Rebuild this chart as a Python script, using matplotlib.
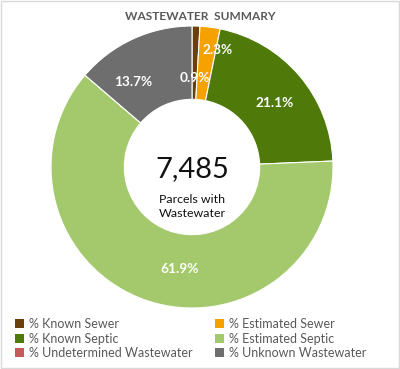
import matplotlib
matplotlib.use("Agg")
import matplotlib.pyplot as plt
from matplotlib.patches import Patch, Rectangle
import numpy as np

plt.rcParams["font.family"] = ["Lato", "DejaVu Sans"]

categories = ["% Known Sewer", "% Estimated Sewer", "% Known Septic",
              "% Estimated Septic", "% Undetermined Wastewater", "% Unknown Wastewater"]
values = [0.9, 2.3, 21.1, 61.9, 0.0, 13.7]
colors = ["#6A3F0B", "#F5A100", "#4F7A0A", "#A4C96D", "#C55A5A", "#6E6E6E"]
total_parcels = 7485

# per-label radial position and angular nudge (degrees, ccw positive)
label_r = [0.63, 0.85, 0.74, 0.73, 0.74, 0.73]
label_nudge = [0, -5, -2.5, 12, 0, 10]

W, H = 400, 369
fig = plt.figure(figsize=(W / 100, H / 100), dpi=100)
fig.patches.append(Rectangle((0.002, 0.002), 0.996, 0.996, transform=fig.transFigure,
                             fill=False, edgecolor="#d9d9d9", linewidth=1))
renderer = fig.canvas.get_renderer()


def fit_size(txt, target_px, weight="normal"):
    # pick a font size so the text spans target_px pixels
    t = fig.text(0, 0, txt, fontsize=10, fontweight=weight)
    w = t.get_window_extent(renderer).width
    t.remove()
    return 10 * target_px / w


cx, cy, r = 192, 167, 141
ax = fig.add_axes([(cx - r) / W, (H - cy - r) / H, 2 * r / W, 2 * r / H])

wedges, _ = ax.pie(values, colors=colors, startangle=90, counterclock=False,
                   wedgeprops=dict(width=0.52, edgecolor="white", linewidth=0.8))
ax.set_xlim(-1, 1)
ax.set_ylim(-1, 1)

lab_fs = fit_size("21.1%", 38, "bold")
for w, v, rr, nd in zip(wedges, values, label_r, label_nudge):
    if v <= 0:
        continue
    ang = np.deg2rad((w.theta1 + w.theta2) / 2 + nd)
    ax.text(rr * np.cos(ang), rr * np.sin(ang), f"{v:.1f}%", ha="center", va="center",
            color="white", fontsize=lab_fs, fontweight="bold")

ax.text(0, -0.015, f"{total_parcels:,}", ha="center", va="center",
        fontsize=fit_size("7,485", 74), color="#111111")
ax.text(0, -0.28, "Parcels with\nWastewater", ha="center", va="center",
        fontsize=fit_size("Parcels with", 66), color="#111111", linespacing=1.25)

fig.text(0.5, 0.956, "WASTEWATER  SUMMARY", ha="center", va="center",
         fontsize=fit_size("WASTEWATER  SUMMARY", 151, "bold"),
         fontweight="bold", color="#595959")

leg_fs = fit_size("% Undetermined Wastewater", 164)
handles = [Patch(facecolor=c, edgecolor="none") for c in colors]
for col, x0 in zip([0, 1], [15, 215]):
    idx = [i for i in range(len(categories)) if i % 2 == col]
    leg = fig.legend([handles[i] for i in idx], [categories[i] for i in idx],
                     loc="upper left", bbox_to_anchor=(x0 / W, 1 - 318 / H),
                     frameon=False, fontsize=leg_fs, handlelength=0.75, handleheight=0.75,
                     handletextpad=0.4, labelspacing=0.2, labelcolor="#595959",
                     borderaxespad=0, borderpad=0)

fig.savefig("out.png", dpi=100)
